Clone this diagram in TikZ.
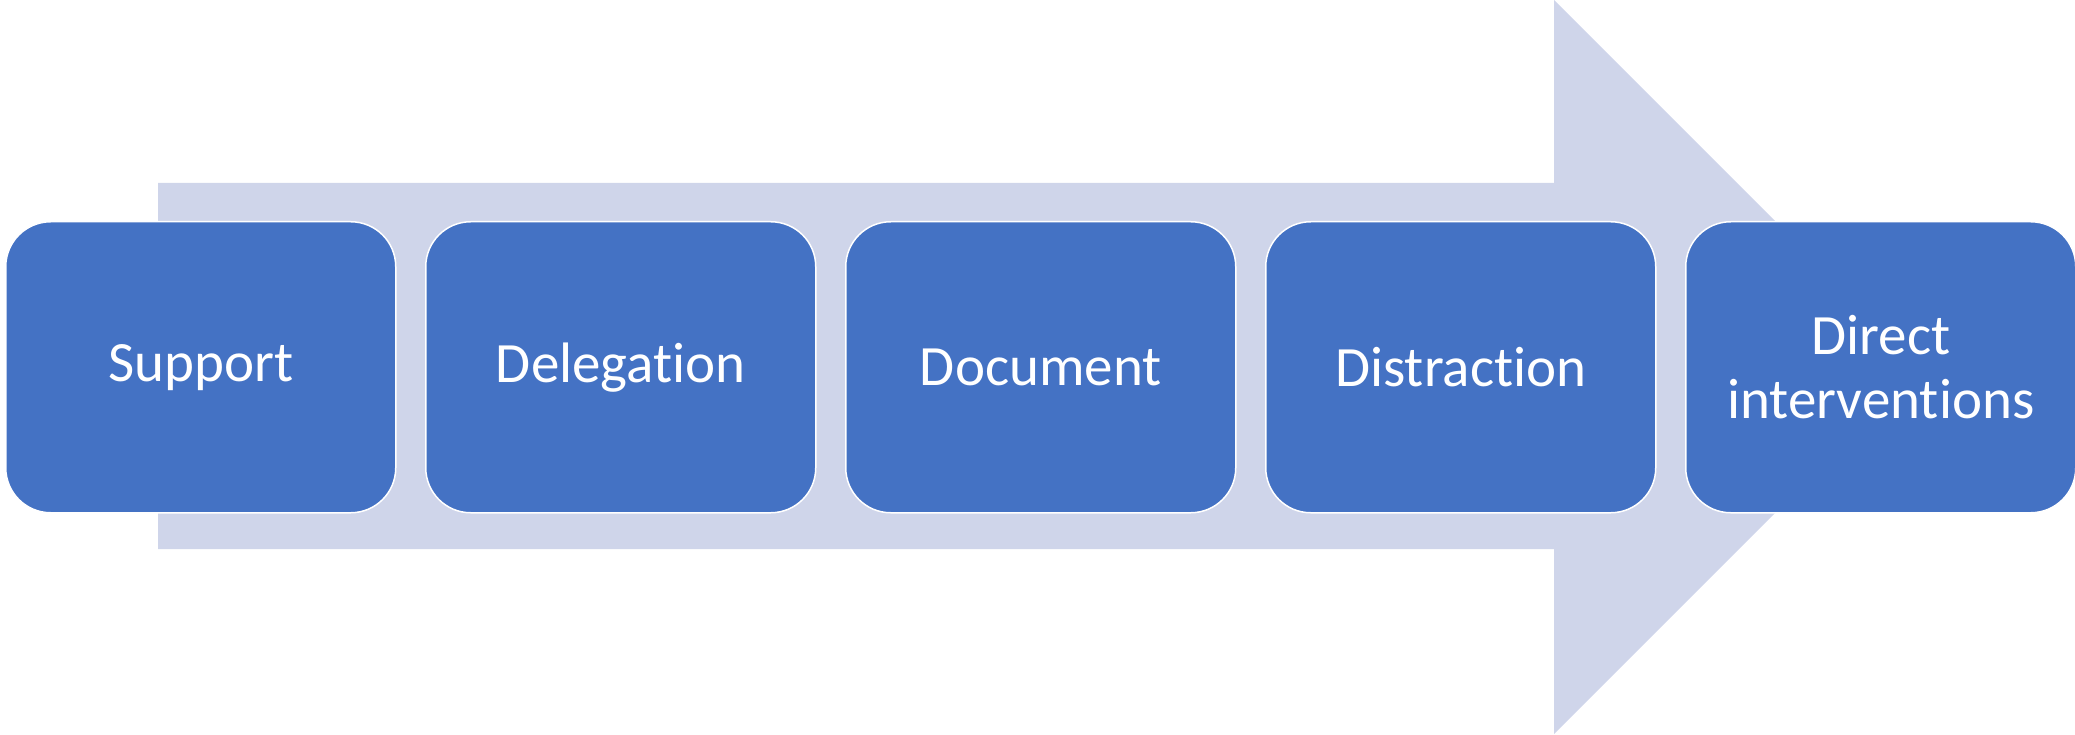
\documentclass[tikz,border=0pt]{standalone}
\usepackage{fontspec}
\setmainfont{Carlito}[Ligatures={NoCommon}]
\definecolor{boxblue}{HTML}{4472C4}
\definecolor{arrowfill}{HTML}{CFD5EA}
\tikzset{
  stagebox/.style={draw=white, line width=1.5pt, fill=boxblue, rounded corners=45pt,
    minimum width=390pt, minimum height=291pt, inner sep=0pt, text=white,
    align=center, font=\fontsize{57}{64}\selectfont, anchor=north west},
}
\begin{document}
\begin{tikzpicture}[x=1pt,y=-1pt]
\useasboundingbox (0,0) rectangle (2075,735);
\clip (0,0) rectangle (2075,735);
\fill[arrowfill] (158,183) -- (1554,183) -- (1554,0) -- (1921,367) -- (1554,734) -- (1554,549) -- (158,549) -- cycle;
\node[stagebox] (s1) at (5,221) {Support};
\node[stagebox] (s2) at (425,221) {Delegation};
\node[stagebox] (s3) at (845,221) {Document};
\node[stagebox] (s4) at (1265,221) {Distraction};
\node[stagebox] (s5) at (1685,221) {Direct\\interventions};
\end{tikzpicture}
\end{document}
